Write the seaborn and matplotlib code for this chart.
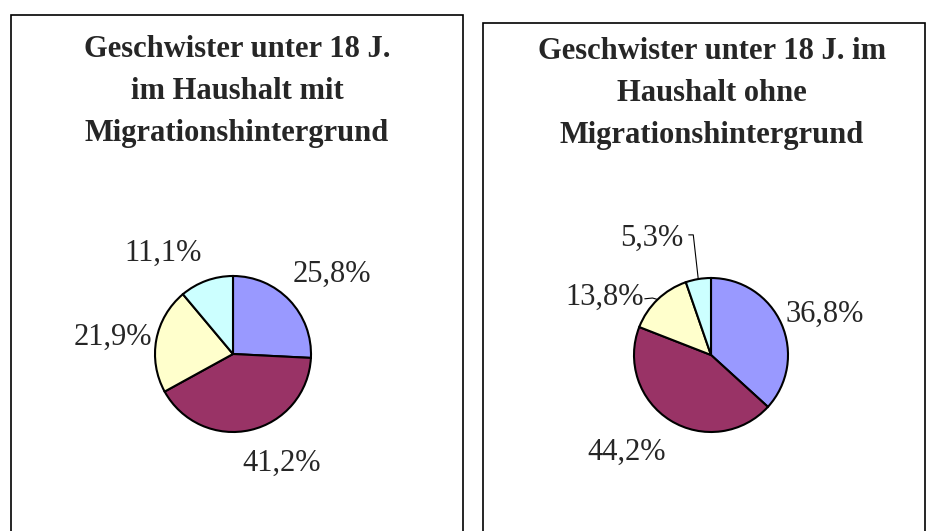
import numpy as np
import seaborn as sns
import matplotlib.pyplot as plt
from matplotlib.patches import Rectangle

# ---------- DATA ----------

groups = ["mit", "ohne"]

titles = [
    "Geschwister unter 18 J.\nim Haushalt mit\nMigrationshintergrund",
    "Geschwister unter 18 J. im\nHaushalt ohne\nMigrationshintergrund",
]

shares_mit = [25.8, 41.2, 21.9, 11.1]
shares_ohne = [36.8, 44.2, 13.8, 5.3]

slice_colors = ["#9999FF", "#993366", "#FFFFCC", "#CCFFFF"]

# ---------- STYLE ----------

sns.set_style("white")
plt.rcParams["font.family"] = ["Liberation Serif", "DejaVu Serif"]

W, H = 933, 531
fig = plt.figure(figsize=(W / 100, H / 100), dpi=100)
fig.patch.set_facecolor("white")


def px_box(x0, y0, x1, y1):
    # pixel box (top-left origin) -> figure fraction
    return [x0 / W, 1 - y1 / H, (x1 - x0) / W, (y1 - y0) / H]


# panel frames (left, top, right) in pixels; bottom runs off the image
panels = [(11, 15, 463), (483, 23, 925)]
title_x = [237, 712]
title_top = [35, 37]

# pie centre and radius in pixels
pies = [(233, 354, 78), (711, 355, 77)]

# label placement in pie-radius units
label_pos = [
    [(1.27, 1.02), (0.62, -1.40), (-1.54, 0.21), (-0.90, 1.29)],
    [(1.48, 0.53), (-1.09, -1.27), (-1.38, 0.75), (-0.77, 1.51)],
]

# leader lines (start points, radius units) for small slices: slice index -> path
leaders = [
    {},
    {2: [(-0.86, 0.73), (-0.76, 0.74)], 3: [(-0.29, 1.56), (-0.23, 1.56)]},
]

all_shares = [shares_mit, shares_ohne]

for i, shares in enumerate(all_shares):

    x0, y0, x1 = panels[i]
    fig.add_artist(Rectangle(
        (x0 / W, -0.05), (x1 - x0) / W, 1 - y0 / H + 0.05,
        transform=fig.transFigure, fill=False,
        edgecolor="black", linewidth=1.2
    ))

    fig.text(
        title_x[i] / W, 1 - title_top[i] / H,
        titles[i],
        ha="center", va="top",
        fontsize=22, fontweight="bold",
        linespacing=1.6
    )

    cx, cy, r = pies[i]
    ax = fig.add_axes(px_box(cx - r, cy - r, cx + r, cy + r))

    wedges, _ = ax.pie(
        shares,
        colors=slice_colors,
        startangle=90,
        counterclock=False,
        radius=1,
        wedgeprops=dict(edgecolor="black", linewidth=1.5),
    )
    ax.set_xlim(-1, 1)
    ax.set_ylim(-1, 1)
    ax.set_aspect("equal")
    ax.axis("off")

    for j, val in enumerate(shares):
        lx, ly = label_pos[i][j]
        ax.text(
            lx, ly,
            f"{val:.1f}%".replace(".", ","),
            ha="center", va="center",
            fontsize=22
        )

    for j, pts in leaders[i].items():
        w = wedges[j]
        mid = np.deg2rad((w.theta1 + w.theta2) / 2)
        xs = [p[0] for p in pts] + [np.cos(mid)]
        ys = [p[1] for p in pts] + [np.sin(mid)]
        ax.plot(xs, ys, color="black", linewidth=0.8, clip_on=False)

fig.savefig("out.png", dpi=100, facecolor="white")
